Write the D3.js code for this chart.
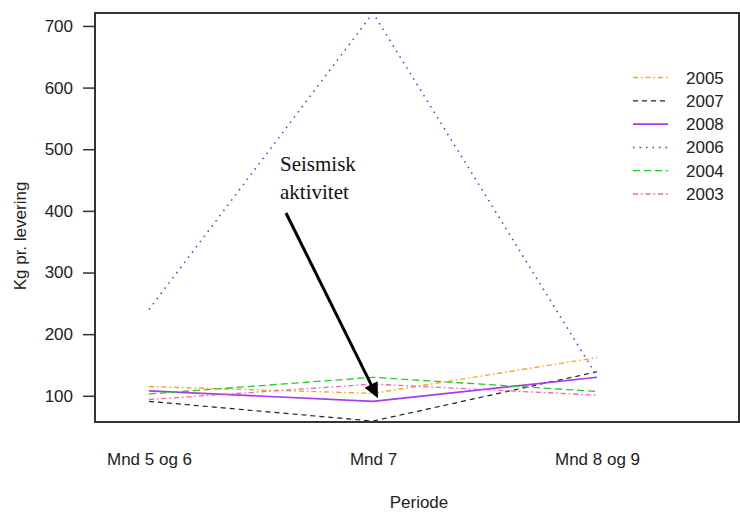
<!DOCTYPE html>
<html><head><meta charset="utf-8">
<script src="https://cdn.jsdelivr.net/npm/d3@7"></script>
<style>body{margin:0;background:#fff}svg{display:block}</style>
</head><body>
<svg id="c" width="740" height="513"></svg>
<script>
const categories = ["Mnd 5 og 6", "Mnd 7", "Mnd 8 og 9"];
const years = ["2005", "2007", "2008", "2006", "2004", "2003"];
const v2005 = [115, 104, 162];
const v2007 = [91, 59, 139];
const v2008 = [108, 91, 130];
const v2006 = [240, 721, 132];
const v2004 = [103, 130, 107];
const v2003 = [94, 119, 101];
const yTicks = [100, 200, 300, 400, 500, 600, 700];
const yDomain = [57.5, 721];

const seriesValues = [v2005, v2007, v2008, v2006, v2004, v2003];
const styles = [
  {color: "#ffa31a", dash: "5,3,1.5,3", width: 1.4},
  {color: "#222222", dash: "5,4", width: 1.2},
  {color: "#a43cf0", dash: null, width: 1.6},
  {color: "#3c3cff", dash: "1.5,5", width: 1.5},
  {color: "#22cc22", dash: "7,4", width: 1.3},
  {color: "#ff5ca8", dash: "5,3,1.5,3", width: 1.3}
];

const svg = d3.select("#c");
const box = {l: 95, r: 739, t: 13, b: 422};
const x = d3.scalePoint().domain(categories).range([149, 597]);
const y = d3.scaleLinear().domain(yDomain).range([box.b, box.t]);
const font = "'Liberation Sans', Arial, sans-serif";

// lines
const line = d3.line().x((d, i) => x(categories[i])).y(d => y(d));
years.forEach((yr, k) => {
  const s = styles[k];
  svg.append("path").datum(seriesValues[k])
    .attr("d", line).attr("fill", "none")
    .attr("stroke", s.color).attr("stroke-width", s.width)
    .attr("stroke-dasharray", s.dash);
});

// frame
svg.append("rect").attr("x", box.l).attr("y", box.t)
  .attr("width", box.r - box.l).attr("height", box.b - box.t)
  .attr("fill", "none").attr("stroke", "#333").attr("stroke-width", 2);

// y axis
const yAxis = d3.axisLeft(y).tickValues(yTicks).tickSize(12).tickPadding(10);
const gy = svg.append("g").attr("transform", `translate(${box.l},0)`).call(yAxis);
gy.select(".domain").remove();
gy.selectAll("line").attr("stroke", "#333").attr("stroke-width", 1.5);
gy.selectAll("text").attr("font-family", font).attr("font-size", 17).attr("fill", "#222");

// x axis labels
const xAxis = d3.axisBottom(x).tickSize(0).tickPadding(31);
const gx = svg.append("g").attr("transform", `translate(0,${box.b})`).call(xAxis);
gx.select(".domain").remove();
gx.selectAll("text").attr("font-family", font).attr("font-size", 17).attr("fill", "#222");

// axis titles
svg.append("text").attr("x", 419).attr("y", 508).attr("text-anchor", "middle")
  .attr("font-family", font).attr("font-size", 17).attr("fill", "#222").text("Periode");
svg.append("text").attr("transform", "translate(26,236) rotate(-90)").attr("text-anchor", "middle")
  .attr("font-family", font).attr("font-size", 17).attr("fill", "#222").text("Kg pr. levering");

// legend
const lg = svg.append("g");
years.forEach((yr, k) => {
  const s = styles[k];
  const ly = 77.5 + k * 23.3;
  lg.append("line").attr("x1", 633).attr("x2", 668).attr("y1", ly).attr("y2", ly)
    .attr("stroke", s.color).attr("stroke-width", s.width).attr("stroke-dasharray", s.dash);
  lg.append("text").attr("x", 686).attr("y", ly + 6).attr("font-family", font)
    .attr("font-size", 17).attr("fill", "#222").text(yr);
});

// annotation
const serif = "'Liberation Serif', 'Times New Roman', serif";
svg.append("text").attr("x", 280).attr("y", 171).attr("font-family", serif)
  .attr("font-size", 21).attr("fill", "#111").text("Seismisk");
svg.append("text").attr("x", 280).attr("y", 199).attr("font-family", serif)
  .attr("font-size", 21).attr("fill", "#111").text("aktivitet");

const tail = [286, 213];
const tip = [x("Mnd 7") + 5, y(v2008[1]) - 3];
const ang = Math.atan2(tip[1] - tail[1], tip[0] - tail[0]);
const hl = 17, ha = 25 * Math.PI / 180;
const back = ang + Math.PI;
const p1 = [tip[0] + hl * Math.cos(back - ha), tip[1] + hl * Math.sin(back - ha)];
const p2 = [tip[0] + hl * Math.cos(back + ha), tip[1] + hl * Math.sin(back + ha)];
const shaftEnd = [tip[0] - 12 * Math.cos(ang), tip[1] - 12 * Math.sin(ang)];
svg.append("line").attr("x1", tail[0]).attr("y1", tail[1]).attr("x2", shaftEnd[0]).attr("y2", shaftEnd[1])
  .attr("stroke", "#000").attr("stroke-width", 3);
svg.append("path").attr("d", d3.line()([tip, p1, p2])).attr("fill", "#000");
</script>
</body></html>
